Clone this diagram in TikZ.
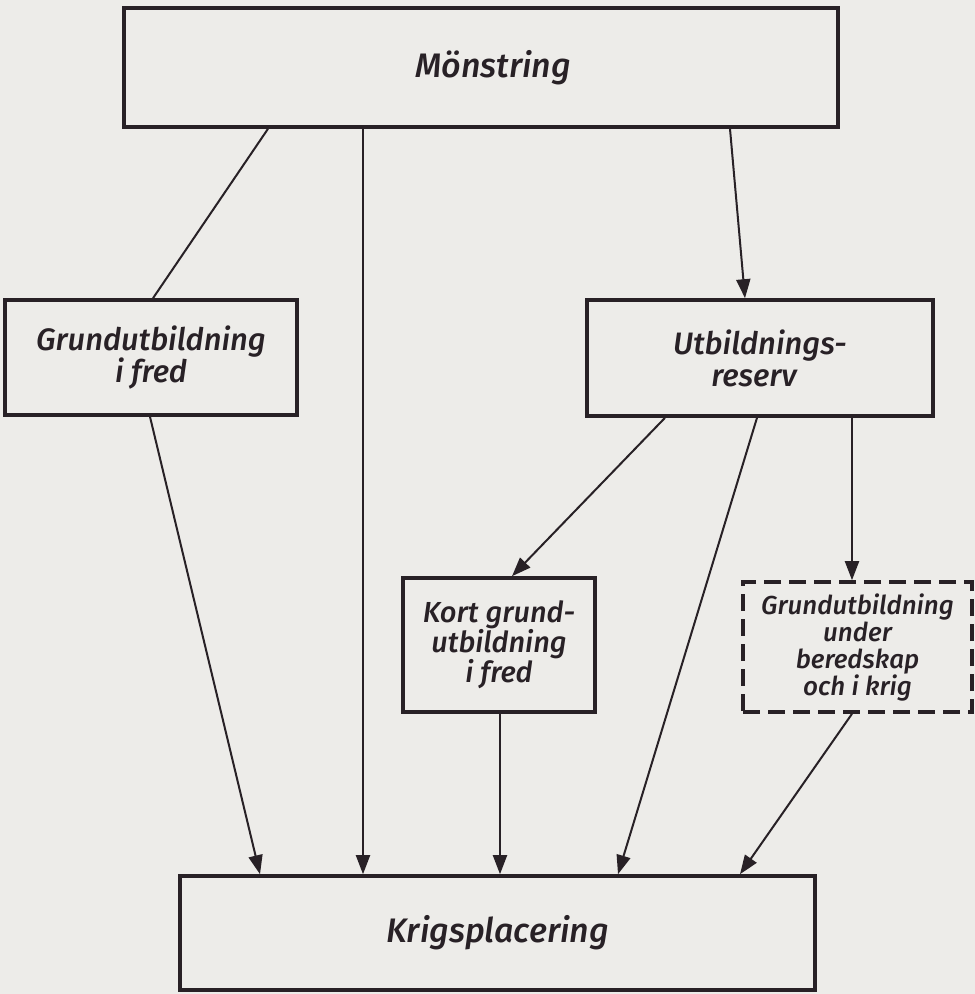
\documentclass[tikz,border=0pt]{standalone}
\usepackage{fontspec}
\setmainfont{Fira Sans}[ItalicFont={Fira Sans Medium Italic}]
\usetikzlibrary{arrows.meta,calc}
\definecolor{paper}{RGB}{237,236,233}
\definecolor{ink}{RGB}{40,33,38}
\tikzset{
  box/.style={draw=ink, line width=3.6pt, text=ink, align=center, inner sep=0pt, font=\itshape},
  dbox/.style={box, dash pattern=on 17pt off 8pt},
  conn/.style={draw=ink, line width=2pt},
  arr/.style={conn, -{Triangle[length=19pt,width=14pt]}},
  big/.style={font=\itshape\fontsize{34}{38}\selectfont},
  mid/.style={font=\itshape\fontsize{31}{32}\selectfont},
  small/.style={font=\itshape\fontsize{29}{30}\selectfont},
  tiny/.style={font=\itshape\fontsize{26}{27}\selectfont},
}
\begin{document}
\begin{tikzpicture}[x=1pt,y=-1pt]
\fill[paper] (0,0) rectangle (975,994);
\useasboundingbox (0,0) rectangle (975,994);
% boxes (centers from pixel positions)
\node[box,big,minimum width=714pt,minimum height=119pt] (M) at (481,67.5) {\hspace{24pt}Mönstring};
\node[box,mid,minimum width=292pt,minimum height=115pt] (G) at (151,357.5) {Grundutbildning\\ i fred};
\node[box,mid,minimum width=346pt,minimum height=116pt] (U) at (760,358) {Utbildnings-\\ reserv\hspace*{12pt}};
\node[box,small,minimum width=192pt,minimum height=134pt] (K) at (499,645) {Kort grund-\\ utbildning\\ i fred};
\node[dbox,tiny,minimum width=229pt,minimum height=130pt] (D) at (857.5,647) {Grundutbildning\\ under\\ beredskap\\ och i krig};
\node[box,big,minimum width=635pt,minimum height=114pt] (P) at (497.5,933) {Krigsplacering};
% connectors
\draw[conn] ([xshift=-213pt]M.south) -- ([xshift=2pt]G.north);
\draw[arr] ([xshift=-118pt]M.south) -- ([xshift=-134.5pt]P.north);
\draw[arr] ([xshift=249pt]M.south) -- ([xshift=-15pt]U.north);
\draw[arr] ([xshift=-1pt]G.south) -- ([xshift=-237.5pt]P.north);
\draw[arr] ([xshift=-95pt]U.south) -- ([xshift=13pt]K.north);
\draw[arr] ([xshift=-3pt]U.south) -- ([xshift=120.5pt]P.north);
\draw[arr] ([xshift=92pt]U.south) -- ([xshift=-5.5pt]D.north);
\draw[arr] ([xshift=1pt]K.south) -- ([xshift=2.5pt]P.north);
\draw[arr] ([xshift=-5.5pt]D.south) -- ([xshift=242.5pt]P.north);
\end{tikzpicture}
\end{document}
